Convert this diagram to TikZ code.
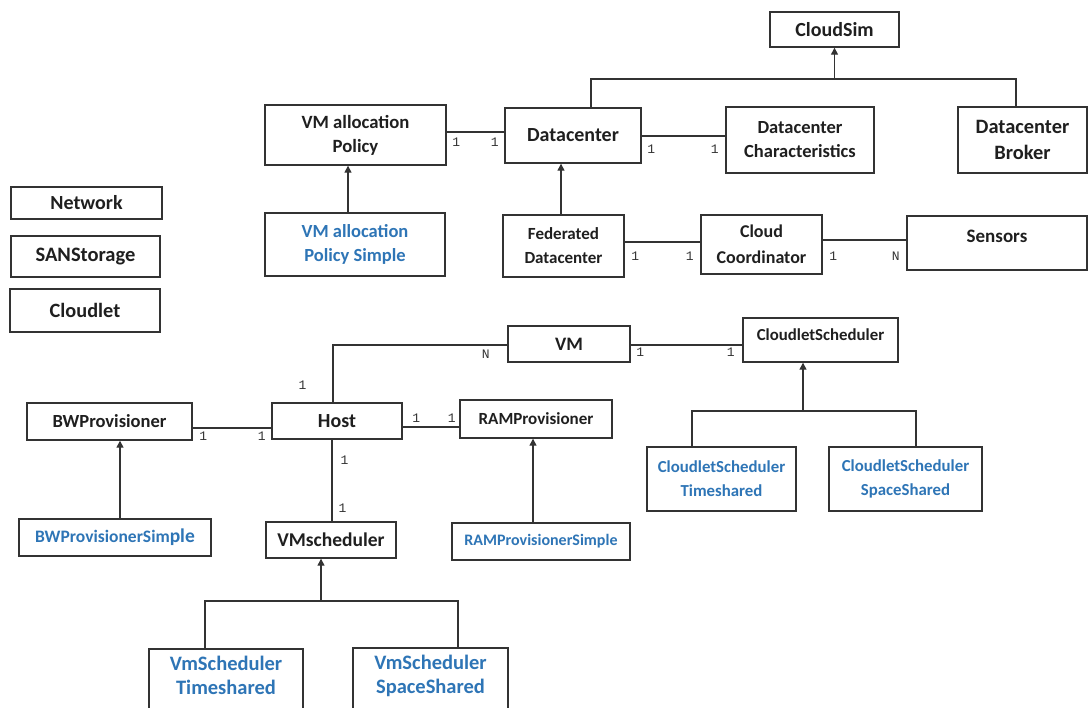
\documentclass[tikz,border=0pt]{standalone}
\usepackage{fontspec}
\setmainfont{Carlito}
\newfontfamily\multfont{Liberation Mono}
\usetikzlibrary{arrows.meta}
\definecolor{clsblue}{HTML}{2E75B6}
\definecolor{ink}{HTML}{333333}

\begin{document}
\begin{tikzpicture}[x=1pt,y=-1pt,
  cls/.style={draw=ink, line width=1.4pt, fill=white, inner sep=2pt, align=center,
    font=\fontsize{19}{24}\selectfont\bfseries, text=black!88},
  impl/.style={cls, text=clsblue},
  fs/.style={font=\fontsize{#1}{24}\selectfont\bfseries},
  link/.style={draw=ink, line width=1.4pt},
  inh/.style={link, -{Triangle[length=7pt,width=7pt]}},
  mult/.style={font=\multfont\fontsize{13}{13}\selectfont, text=black!80, inner sep=0pt}]

\useasboundingbox (0,0) rectangle (1089,707);
\clip (0,0) rectangle (1089,707);

% ---- core classes ----
\node[cls, fs=20, minimum width=129pt, minimum height=35pt] (cloudsim) at (834.5,29.5) {CloudSim};
\node[cls, fs=20, minimum width=136pt, minimum height=55pt] (dc) at (573,135.5) {Datacenter};
\node[cls, fs=18.7, minimum width=181pt, minimum height=60pt] (vmap) at (355.5,135) {VM allocation\\Policy};
\node[cls, fs=18.5, minimum width=148pt, minimum height=66pt] (dcc) at (800,140) {Datacenter\\Characteristics};
\node[cls, font=\fontsize{20.4}{26}\selectfont\bfseries, minimum width=129pt, minimum height=66pt] (broker) at (1022.5,140) {Datacenter\\Broker};
\node[impl, fs=18.5, minimum width=180pt, minimum height=63pt] (vmaps) at (355,244.5) {VM allocation\\Policy Simple};

% ---- standalone classes ----
\node[cls, fs=20, minimum width=151pt, minimum height=32pt] (network) at (86.5,203) {Network};
\node[cls, fs=20.5, minimum width=149pt, minimum height=41pt] (san) at (85.5,256.5) {SANStorage};
\node[cls, fs=20.3, minimum width=150pt, minimum height=43pt] (cloudlet) at (85,310.5) {Cloudlet};

% ---- federation ----
\node[cls, fs=17, minimum width=121pt, minimum height=62pt] (fed) at (563.5,246) {Federated\\Datacenter};
\node[cls, font=\fontsize{18}{26}\selectfont\bfseries, minimum width=121pt, minimum height=59pt] (coord) at (761.5,244.5) {Cloud\\Coordinator};
\node[cls, minimum width=180pt, minimum height=54pt, text depth=14pt] (sensors) at (997,243) {Sensors};

% ---- hosts and VMs ----
\node[cls, minimum width=122pt, minimum height=36pt] (vm) at (569,344) {VM};
\node[cls, fs=16.8, minimum width=155pt, minimum height=44pt, text depth=10pt] (cs) at (820.5,340) {CloudletScheduler};
\node[cls, fs=20, minimum width=130pt, minimum height=36pt] (host) at (337,421) {Host};
\node[cls, fs=18.5, minimum width=165pt, minimum height=37pt] (bw) at (109.5,421.5) {BWProvisioner};
\node[cls, fs=17, minimum width=152pt, minimum height=38pt] (ram) at (536,419) {RAMProvisioner};
\node[impl, fs=16, minimum width=178pt, minimum height=37pt] (rams) at (541,541.5) {RAMProvisionerSimple};
\node[impl, fs=17.5, minimum width=192pt, minimum height=37pt] (bws) at (115,537.5) {BWProvisionerSim\fontsize{19.5}{24}\selectfont ple};
\node[cls, fs=19.5, minimum width=130pt, minimum height=36pt] (vms) at (331,540) {VMscheduler};
\node[impl, fs=16.8, minimum width=149pt, minimum height=64pt] (cst) at (721.5,479) {CloudletScheduler\\Timeshared};
\node[impl, fs=16.8, minimum width=153pt, minimum height=64pt] (css) at (905.5,479) {CloudletScheduler\\SpaceShared};
\node[impl, fs=20.5, minimum width=154pt, minimum height=70pt, text depth=18pt] (vmst) at (226,684) {VmScheduler\\Timeshared};
\node[impl, fs=20.5, minimum width=155pt, minimum height=70pt, text depth=18pt] (vmss) at (430.5,683) {VmScheduler\\SpaceShared};

% ---- generalisation to CloudSim ----
\coordinate (jcs) at (834.5,79);
\draw[link] ([xshift=18pt]dc.north) |- (jcs) -| ([xshift=-6.5pt]broker.north);
\draw[inh] (jcs) -- (cloudsim.south);

% ---- associations around Datacenter ----
\draw[link] ([yshift=3pt]vmap.east) -- ([yshift=3pt]vmap.east -| dc.west)
  node[mult, pos=0, anchor=north west, xshift=5pt, yshift=-5pt] {1}
  node[mult, pos=1, anchor=north east, xshift=-5pt, yshift=-5pt] {1};
\draw[link] ([yshift=-0.5pt]dc.east) -- ([yshift=-0.5pt]dc.east -| dcc.west)
  node[mult, pos=0, anchor=north west, xshift=5pt, yshift=-8pt] {1}
  node[mult, pos=1, anchor=north east, xshift=-6pt, yshift=-8pt] {1};
\draw[inh] ([xshift=-7pt]vmaps.north) -- ([xshift=-7pt]vmaps.north |- vmap.south);
\draw[inh] ([xshift=-2.5pt]fed.north) -- ([xshift=-2.5pt]fed.north |- dc.south);

% ---- federation associations ----
\draw[link] ([yshift=4pt]fed.east) -- ([yshift=4pt]fed.east -| coord.west)
  node[mult, pos=0, anchor=north west, xshift=6pt, yshift=-9pt] {1}
  node[mult, pos=1, anchor=north east, xshift=-6pt, yshift=-9pt] {1};
\draw[link] ([yshift=4.5pt]coord.east) -- ([yshift=4.5pt]coord.east -| sensors.west)
  node[mult, pos=0, anchor=north west, xshift=6pt, yshift=-11pt] {1}
  node[mult, pos=1, anchor=north east, xshift=-6pt, yshift=-11pt] {N};

% ---- VM associations ----
\draw[link] ([yshift=-1pt]vm.east) -- ([yshift=-1pt]vm.east -| cs.west)
  node[mult, pos=0, anchor=north west, xshift=5pt, yshift=-2pt] {1}
  node[mult, pos=1, anchor=north east, xshift=-7pt, yshift=-2pt] {1};
\draw[link] ([yshift=-1pt]vm.west) -| ([xshift=-4pt]host.north)
  node[mult, pos=0, anchor=north east, xshift=-17pt, yshift=-4pt] {N}
  node[mult, pos=1, anchor=south east, xshift=-26pt, yshift=12pt] {1};

% ---- Host associations ----
\draw[link] ([yshift=-6.5pt]bw.east) -- ([yshift=-6.5pt]bw.east -| host.west)
  node[mult, pos=0, anchor=north west, xshift=6pt, yshift=-3pt] {1}
  node[mult, pos=1, anchor=north east, xshift=-5pt, yshift=-3pt] {1};
\draw[link] ([yshift=-6pt]host.east) -- ([yshift=-6pt]host.east -| ram.west)
  node[mult, pos=0, anchor=south west, xshift=9pt, yshift=4pt] {1}
  node[mult, pos=1, anchor=south east, xshift=-3pt, yshift=4pt] {1};
\draw[link] ([xshift=-5pt]host.south) -- ([xshift=-5pt]host.south |- vms.north)
  node[mult, pos=0, anchor=north west, xshift=8pt, yshift=-16pt] {1}
  node[mult, pos=1, anchor=south west, xshift=6pt, yshift=8pt] {1};

% ---- provisioner specialisations ----
\draw[inh] ([xshift=5pt]bws.north) -- ([xshift=5pt]bws.north |- bw.south);
\draw[inh] ([xshift=-8pt]rams.north) -- ([xshift=-8pt]rams.north |- ram.south);

% ---- cloudlet scheduler specialisations ----
\coordinate (jcl) at (803,411);
\draw[link] ([xshift=-29.5pt]cst.north) |- (jcl) -| ([xshift=10.5pt]css.north);
\draw[inh] (jcl) -- (jcl |- cs.south);

% ---- VM scheduler specialisations ----
\coordinate (jvm) at (321,601);
\draw[link] ([xshift=-21pt]vmst.north) |- (jvm) -| ([xshift=27.5pt]vmss.north);
\draw[inh] (jvm) -- (jvm |- vms.south);
\end{tikzpicture}
\end{document}
